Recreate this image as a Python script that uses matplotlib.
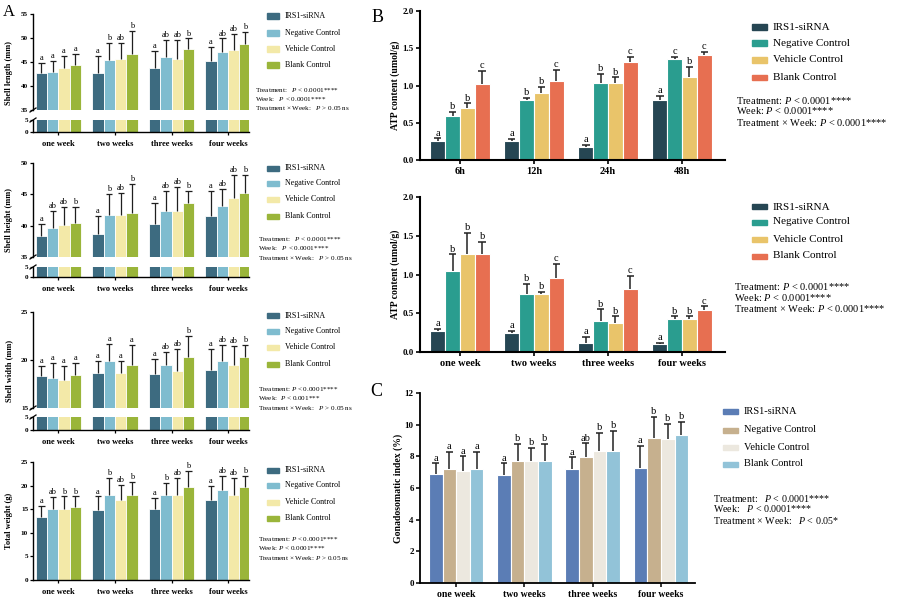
import numpy as np
import matplotlib
matplotlib.use('Agg')
import matplotlib.pyplot as plt
from matplotlib.patches import Rectangle
from matplotlib.lines import Line2D

plt.rcParams['font.family'] = ['Liberation Serif', 'DejaVu Serif']
plt.rcParams['mathtext.fontset'] = 'custom'
plt.rcParams['mathtext.it'] = 'Liberation Serif:italic'
plt.rcParams['mathtext.rm'] = 'Liberation Serif'

W, H = 923, 610

groups = ["IRS1-siRNA", "Negative Control", "Vehicle Control", "Blank Control"]
weeks = ["one week", "two weeks", "three weeks", "four weeks"]
hours = ["6h", "12h", "24h", "48h"]

# ---- Panel A (rows = groups, cols = weeks)
length_mean = [[42.8, 42.8, 43.8, 45.2], [42.9, 45.4, 46.0, 47.1],
               [43.8, 45.7, 45.7, 47.5], [44.3, 46.7, 47.8, 48.7]]
length_sd = [[1.9, 3.5, 3.5, 3.0], [2.4, 3.6, 3.6, 2.8],
             [2.4, 3.2, 3.9, 3.4], [2.3, 4.8, 2.1, 2.6]]
length_let = [["a", "a", "a", "a"], ["a", "b", "ab", "ab"],
              ["a", "ab", "ab", "ab"], ["a", "b", "b", "b"]]

height_mean = [[38.4, 38.6, 40.3, 41.6], [39.7, 41.7, 42.4, 43.2],
               [40.1, 41.7, 42.3, 44.4], [40.5, 42.0, 43.6, 45.2]]
height_sd = [[1.9, 2.9, 3.3, 3.9], [2.6, 3.3, 3.1, 2.6],
             [2.9, 3.5, 3.9, 3.7], [2.5, 4.7, 1.9, 2.9]]
height_let = [["a", "a", "a", "a"], ["ab", "b", "ab", "ab"],
              ["ab", "ab", "ab", "ab"], ["b", "b", "b", "b"]]

width_mean = [[18.3, 18.6, 18.5, 19.0], [18.1, 19.9, 19.5, 19.9],
              [17.9, 18.6, 18.9, 19.5], [18.45, 19.5, 20.3, 20.35]]
width_sd = [[1.1, 1.3, 1.6, 2.1], [1.55, 1.8, 1.3, 1.65],
            [1.5, 1.3, 2.2, 2.0], [1.2, 2.1, 2.2, 1.2]]
width_let = [["a", "a", "a", "a"], ["a", "a", "ab", "ab"],
             ["a", "a", "ab", "ab"], ["a", "a", "b", "b"]]

weight_mean = [[13.4, 14.9, 15.1, 16.9], [15.0, 18.0, 18.1, 19.0],
               [15.0, 16.9, 18.0, 18.1], [15.5, 18.0, 19.7, 19.7]]
weight_sd = [[2.2, 2.8, 2.3, 3.0], [2.5, 3.7, 2.5, 3.0],
             [2.7, 3.2, 3.7, 3.5], [2.2, 2.8, 3.3, 2.3]]
weight_let = [["a", "a", "a", "a"], ["ab", "b", "b", "ab"],
              ["b", "ab", "ab", "ab"], ["b", "b", "b", "b"]]

# ---- Panel B
atp_h_mean = [[0.26, 0.25, 0.18, 0.80], [0.59, 0.80, 1.04, 1.35],
              [0.70, 0.90, 1.04, 1.12], [1.02, 1.06, 1.31, 1.41]]
atp_h_sd = [[0.03, 0.03, 0.02, 0.06], [0.06, 0.03, 0.12, 0.03],
            [0.06, 0.08, 0.07, 0.13], [0.18, 0.15, 0.07, 0.04]]
atp_h_let = [["a", "a", "a", "a"], ["b", "b", "b", "c"],
             ["b", "b", "b", "b"], ["c", "c", "c", "c"]]

atp_w_mean = [[0.27, 0.25, 0.12, 0.10], [1.05, 0.75, 0.40, 0.43],
              [1.27, 0.75, 0.37, 0.43], [1.27, 0.96, 0.81, 0.54]]
atp_w_sd = [[0.03, 0.02, 0.07, 0.02], [0.21, 0.13, 0.15, 0.03],
            [0.27, 0.03, 0.09, 0.03], [0.15, 0.18, 0.17, 0.05]]
atp_w_let = [["a", "a", "a", "a"], ["b", "b", "b", "b"],
             ["b", "b", "b", "b"], ["b", "c", "c", "c"]]

# ---- Panel C
gsi_mean = [[6.86, 6.81, 7.23, 7.27], [7.17, 7.69, 7.97, 9.18],
            [7.09, 7.69, 8.32, 9.12], [7.23, 7.69, 8.32, 9.33]]
gsi_sd = [[0.7, 0.74, 0.7, 1.37], [1.1, 1.1, 0.85, 1.3],
          [0.9, 0.86, 1.15, 0.94], [1.05, 1.1, 1.3, 0.84]]
gsi_let = [["a", "a", "a", "a"], ["a", "b", "ab", "b"],
           ["a", "b", "b", "b"], ["a", "b", "b", "b"]]

stats_A = [
    ["Treatment:   $P$ < 0.0001****", "Week:   $P$ < 0.0001****", "Treatment × Week:   $P$ > 0.05 ns"],
    ["Treatment:   $P$ < 0.0001****", "Week:   $P$ < 0.0001****", "Treatment × Week:   $P$ > 0.05 ns"],
    ["Treatment: $P$ < 0.0001****", "Week:  $P$ < 0.001***", "Treatment × Week:   $P$ > 0.05 ns"],
    ["Treatment: $P$ < 0.0001****", "Week: $P$ < 0.0001****", "Treatment × Week: $P$ > 0.05 ns"],
]
stats_B = ["Treatment: $P$ < 0.0001****", "Week: $P$ < 0.0001****", "Treatment × Week: $P$ < 0.0001****"]
stats_C = ["Treatment:   $P$ < 0.0001****", "Week:   $P$ < 0.0001****", "Treatment × Week:   $P$ < 0.05*"]

colA = ['#3d6b80', '#7fbccf', '#f3e9a8', '#9ab53a']
colB = ['#264653', '#2a9d8f', '#e9c46a', '#e76f51']
colC = ['#5b7db5', '#c6b08e', '#ece8df', '#92c3d8']

fig = plt.figure(figsize=(W / 100, H / 100), dpi=100)


def ax_px(l, t, r, b):
    return fig.add_axes([l / W, 1 - b / H, (r - l) / W, (b - t) / H])


def fx(x):
    return x / W


def fy(y):
    return 1 - y / H


def draw_bars(ax, means, sds, letters, colors, width=0.2, cap=0.06, lfs=6,
              loff=0.0, lw=1.0, ec='#1f1f1f', letters_on=True, edge=0.6):
    x = np.arange(4)
    for gi in range(4):
        xs = x + (gi - 1.5) * width
        m = np.array(means[gi])
        s = np.array(sds[gi])
        ax.bar(xs, m, width, color=colors[gi], edgecolor='white', linewidth=edge, zorder=2)
        tops = m + s
        ax.vlines(xs, m, tops, color=ec, lw=lw, zorder=3)
        ax.hlines(tops, xs - cap, xs + cap, color=ec, lw=lw, zorder=3)
        if letters_on:
            for xi, t, l in zip(xs, tops, letters[gi]):
                ax.text(xi, t + loff, l, ha='center', va='bottom', fontsize=lfs, zorder=4)


def style(ax, lw=1.2):
    for s in ['top', 'right']:
        ax.spines[s].set_visible(False)
    for s in ['left', 'bottom']:
        ax.spines[s].set_linewidth(lw)


def legend(x, ys, colors, fs, pw=14, ph=5):
    for y, c, g in zip(ys, colors, groups):
        fig.add_artist(Rectangle((fx(x), fy(y + ph / 2)), pw / W, ph / H,
                                 transform=fig.transFigure, color=c))
        fig.text(fx(x + pw + 6), fy(y), g, fontsize=fs, va='center', ha='left')


def stats(x, ys, lines, fs):
    for y, t in zip(ys, lines):
        fig.text(fx(x), fy(y), t, fontsize=fs, va='center', ha='left')


# ---------------- Panel A ----------------
A_specs = [
    (length_mean, length_sd, length_let, (14, 110, 120, 132), (35, 55), [35, 40, 45, 50, 55], "Shell length (mm)"),
    (height_mean, height_sd, height_let, (163, 257, 267, 277), (35, 50), [35, 40, 45, 50], "Shell height (mm)"),
    (width_mean, width_sd, width_let, (312, 408, 417, 430), (15, 25), [15, 20, 25], "Shell width (mm)"),
]
AL, AR = 33, 249
axlim = (-0.45, 3.37)
tfs = 5.2
for (mn, sd, lt, (t1, b1, t2, b2), ylim, yt, ylab) in A_specs:
    up = ax_px(AL, t1, AR, b1)
    lo = ax_px(AL, t2, AR, b2)
    span = ylim[1] - ylim[0]
    draw_bars(up, mn, sd, lt, colA, cap=0.055, lfs=6, loff=span * 0.01, lw=0.9)
    draw_bars(lo, mn, sd, lt, colA, letters_on=False, lw=0.9)
    up.set_ylim(*ylim)
    up.set_yticks(yt)
    lo.set_ylim(0, 5)
    lo.set_yticks([0, 5])
    for a in (up, lo):
        a.set_xlim(*axlim)
        style(a, 1.0)
        a.tick_params(axis='y', labelsize=tfs, length=2.5, width=0.9, pad=1)
        for lab in a.get_yticklabels():
            lab.set_fontweight('bold')
    up.spines['bottom'].set_visible(False)
    up.set_xticks([])
    lo.set_xticks(np.arange(4))
    lo.set_xticklabels(weeks, fontsize=6, fontweight='bold')
    lo.tick_params(axis='x', length=2.5, width=0.9, pad=3)
    # break marks
    for yb in (b1, t2):
        fig.add_artist(Line2D([fx(AL - 3), fx(AL + 3)], [fy(yb + 2), fy(yb - 2)],
                              transform=fig.transFigure, color='k', lw=0.9))
    fig.text(fx(9), fy((t1 + b2) / 2), ylab, rotation=90, fontsize=6,
             fontweight='bold', ha='center', va='center')

# total weight (no break)
a4 = ax_px(AL, 462, AR, 580)
draw_bars(a4, weight_mean, weight_sd, weight_let, colA, cap=0.055, lfs=6, loff=0.2, lw=0.9)
a4.set_ylim(0, 25)
a4.set_yticks([0, 5, 10, 15, 20, 25])
a4.set_xlim(*axlim)
style(a4, 1.0)
a4.tick_params(axis='y', labelsize=tfs, length=2.5, width=0.9, pad=1)
for lab in a4.get_yticklabels():
    lab.set_fontweight('bold')
a4.set_xticks(np.arange(4))
a4.set_xticklabels(weeks, fontsize=6, fontweight='bold')
a4.tick_params(axis='x', length=2.5, width=0.9, pad=3)
fig.text(fx(9), fy(521), "Total weight (g)", rotation=90, fontsize=6,
         fontweight='bold', ha='center', va='center')

A_leg_y = [[16, 33, 49, 65], [168, 183, 199, 216], [316, 331, 347, 364], [470, 485, 502, 518]]
A_stat_y = [[90, 99, 108], [239, 248.5, 258], [389, 398.5, 408], [539, 548.5, 558]]
A_stat_x = [255, 258, 258, 258]
for i in range(4):
    legend(267, A_leg_y[i], colA, 5.8, pw=12, ph=5)
    stats(A_stat_x[i], A_stat_y[i], stats_A[i], 5.1)

fig.text(fx(3), fy(12), "A", fontsize=12, ha='left', va='center')

# ---------------- Panel B ----------------
BL, BR = 420, 725
bxlim = (-0.54, 3.58)
for (mn, sd, lt, t, b, cats) in [(atp_h_mean, atp_h_sd, atp_h_let, 11, 160, hours),
                                 (atp_w_mean, atp_w_sd, atp_w_let, 197, 352, weeks)]:
    ax = ax_px(BL, t, BR, b)
    draw_bars(ax, mn, sd, lt, colB, cap=0.05, lfs=7.5, loff=0.01, lw=1.1, ec='#222222', edge=0.8)
    ax.set_ylim(0, 2.0)
    ax.set_yticks([0, 0.5, 1.0, 1.5, 2.0])
    ax.set_yticklabels(["0.0", "0.5", "1.0", "1.5", "2.0"])
    ax.set_xlim(*bxlim)
    style(ax, 1.5)
    ax.tick_params(axis='y', labelsize=6.5, length=3, width=1.2, pad=1.5)
    ax.set_xticks(np.arange(4))
    ax.set_xticklabels(cats, fontsize=7.5, fontweight='bold')
    ax.tick_params(axis='x', length=3, width=1.2, pad=2)
    for lab in ax.get_yticklabels():
        lab.set_fontweight('bold')
    fig.text(fx(395), fy((t + b) / 2), "ATP content (umol/g)", rotation=90, fontsize=7,
             fontweight='bold', ha='center', va='center')

legend(752, [27, 43, 60, 77], colB, 8, pw=15, ph=5)
stats(736, [101, 111, 122], stats_B, 7.5)
legend(752, [207, 222, 239, 256], colB, 8, pw=15, ph=5)
stats(734, [287, 298, 309], stats_B, 7.5)
fig.text(fx(372), fy(17), "B", fontsize=13, ha='left', va='center')

# ---------------- Panel C ----------------
ac = ax_px(420, 393, 695, 583)
draw_bars(ac, gsi_mean, gsi_sd, gsi_let, colC, cap=0.05, lfs=7.5, loff=0.05, lw=1.1, ec='#222222', edge=0.8)
ac.set_ylim(0, 12)
ac.set_yticks([0, 2, 4, 6, 8, 10, 12])
ac.set_xlim(-0.53, 3.5)
style(ac, 1.3)
ac.tick_params(axis='y', labelsize=6.5, length=3, width=1.1, pad=1.5)
for lab in ac.get_yticklabels():
    lab.set_fontweight('bold')
ac.set_xticks(np.arange(4))
ac.set_xticklabels(weeks, fontsize=7, fontweight='bold')
ac.tick_params(axis='x', length=3, width=1.1, pad=2)
fig.text(fx(398), fy(488), "Gonadosomatic index (%)", rotation=90, fontsize=7,
         fontweight='bold', ha='center', va='center')
legend(723, [411, 430, 447, 464], colC, 7.5, pw=15, ph=5)
stats(713, [498, 509, 520], stats_C, 7.2)
fig.text(fx(370), fy(392), "C", fontsize=13, ha='left', va='center')

fig.savefig("out.png", dpi=100)
